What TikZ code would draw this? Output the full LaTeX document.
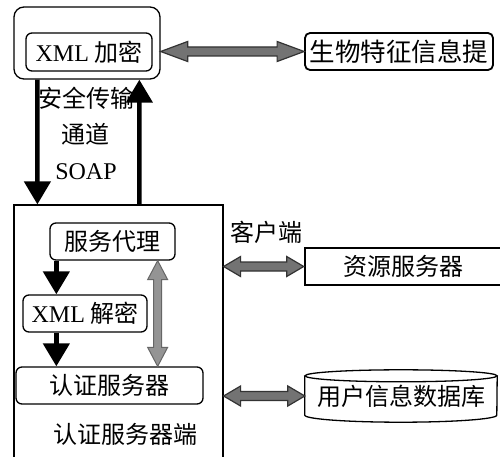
\documentclass[tikz,border=0pt]{standalone}
\usepackage{fontspec}
\setmainfont{Liberation Serif}
\newfontfamily\cjk{Noto Sans CJK SC}
\usetikzlibrary{arrows.meta,calc}
% horizontal double block arrow: style, from, to, head length, head half width, shaft half width
\newcommand\hdbl[6]{\draw[#1] let \p1=#2, \p2=#3 in
  (\x1,\y1) -- ({\x1+#4},{\y1+#5}) -- ({\x1+#4},{\y1+#6}) -- ({\x2-#4},{\y1+#6}) -- ({\x2-#4},{\y1+#5})
  -- (\x2,\y1) -- ({\x2-#4},{\y1-#5}) -- ({\x2-#4},{\y1-#6}) -- ({\x1+#4},{\y1-#6}) -- ({\x1+#4},{\y1-#5}) -- cycle;}
% vertical double block arrow (from top to bottom)
\newcommand\vdbl[6]{\draw[#1] let \p1=#2, \p2=#3 in
  (\x1,\y1) -- ({\x1+#5},{\y1-#4}) -- ({\x1+#6},{\y1-#4}) -- ({\x1+#6},{\y2+#4}) -- ({\x1+#5},{\y2+#4})
  -- (\x1,\y2) -- ({\x1-#5},{\y2+#4}) -- ({\x1-#6},{\y2+#4}) -- ({\x1-#6},{\y1-#4}) -- ({\x1-#5},{\y1-#4}) -- cycle;}
\begin{document}
\begin{tikzpicture}[x=1pt,y=-1pt,
  every node/.style={font=\cjk\fontsize{24}{28}\selectfont, inner sep=0pt},
  box/.style={draw, line width=1.3pt, rounded corners=6pt, minimum height=37pt},
  barrow/.style={line width=4.5pt, -{Triangle[width=26pt,length=23pt]}},
  blk/.style={draw=black!80, fill=black!55, line width=1.2pt, line join=miter},
  gblk/.style={draw=black!60, fill=black!42, line width=1pt}]
\clip (0,0) rectangle (500,457);
\fill[white] (0,0) rectangle (500,457);

% top part
\node[box, rounded corners=10pt, minimum width=146pt, minimum height=72pt] (outer) at (87,43) {};
\node[box, minimum width=126pt, minimum height=38pt] (enc) at (89,52) {{\rmfamily XML} 加密};
\node[box, rounded corners=5pt, line width=1.8pt, minimum width=188pt, font=\cjk\fontsize{25.5}{28}\selectfont] (bio) at (399,51.5) {生物特征信息提};

\node (t1) at (86,98) {安全传输};
\node (t2) at (85,134) {通道};
\node (t3) at (86,172) {\rmfamily SOAP};

% server side
\node[draw, line width=1.2pt, minimum width=209pt, minimum height=270pt] (server) at (118.5,340) {};
\node[box, minimum width=125pt] (agent) at (112.5,241.5) {服务代理};
\node[box, minimum width=124pt] (dec) at (85,313.5) {{\rmfamily XML} 解密};
\node[box, minimum width=187pt] (auth) at (109.5,385.5) {认证服务器};
\node (send) at (125,434) {认证服务器端};

% right side
\node (client) at (266,232) {客户端};
\node[draw, line width=2.6pt, minimum width=196pt, minimum height=37pt] (res) at (403,266.5) {资源服务器};
\node[minimum width=192pt, minimum height=52pt] (db) at (401,396) {\raisebox{-5pt}{用户信息数据库}};
\draw[line width=1.3pt] ([yshift=-6pt]db.north west) -- ([yshift=7pt]db.south west)
  arc[start angle=180, end angle=360, x radius=96pt, y radius=7pt] -- ([yshift=-6pt]db.north east);
\draw[line width=1.3pt] ([yshift=-6pt]db.north) ellipse[x radius=96pt, y radius=6pt];

% black arrows
\draw[barrow] ([xshift=24pt]outer.south west) -- ([xshift=24pt]server.north west);
\draw[barrow] ([xshift=126pt]server.north west) -- ([xshift=126pt]outer.south west);
\draw[barrow] ([xshift=7pt]agent.south west) -- ([xshift=34pt]dec.north west);
\draw[barrow] ([xshift=34pt]dec.south west) -- ([xshift=41pt]auth.north west);

% block arrows
\hdbl{blk}{(outer.east |- bio.west)}{(bio.west)}{27pt}{10pt}{4.5pt}
\hdbl{blk}{(server.east |- res.west)}{(res.west)}{17pt}{10pt}{4.5pt}
\hdbl{blk}{(server.east |- db.west)}{(db.west)}{17pt}{10pt}{4.5pt}
\vdbl{gblk}{([xshift=-18pt]agent.south east)}{([xshift=-46pt]auth.north east)}{19pt}{10pt}{4pt}
\end{tikzpicture}
\end{document}
